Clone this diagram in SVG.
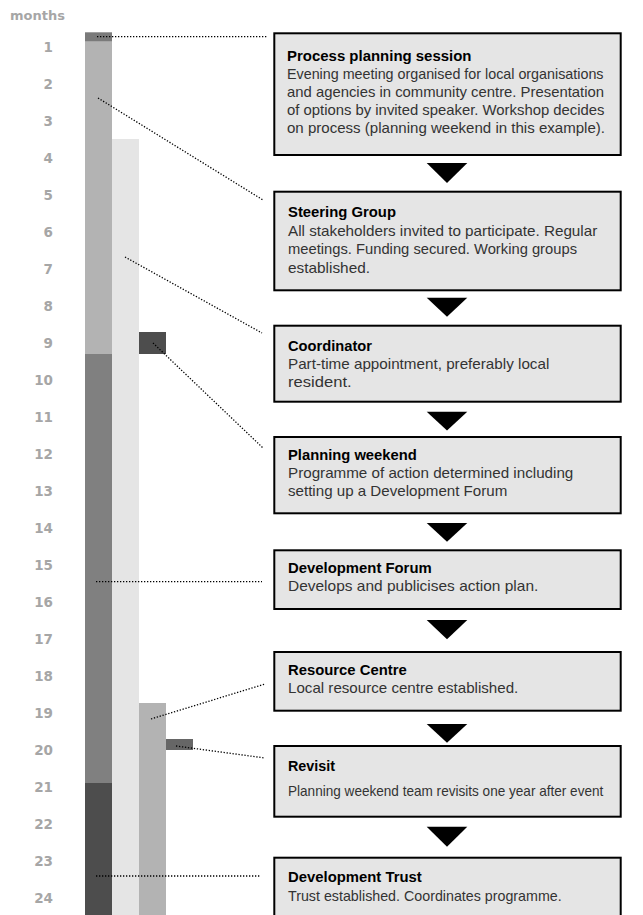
<svg xmlns="http://www.w3.org/2000/svg" width="643" height="915" viewBox="0 0 643 915">
<style>
.box{fill:#e5e5e5;stroke:#000;stroke-width:2}
.t{font-family:"Liberation Sans",Arial,sans-serif;font-weight:bold;font-size:15.5px;fill:#000}
.b{font-family:"Liberation Sans",Arial,sans-serif;font-size:15px;fill:#333}
.n{font-family:"DejaVu Sans",sans-serif;font-weight:bold;font-size:13.5px;fill:#a6a6a6;text-anchor:end}
.m{font-family:"DejaVu Sans",sans-serif;font-weight:bold;font-size:13px;fill:#a6a6a6}
.dot{stroke:#000;stroke-width:1.3;stroke-dasharray:1.3 1.7;fill:none}
.arr{fill:#000}
</style>
<rect width="643" height="915" fill="#fff"/>
<g id="axis">
<text class="m" x="10" y="20">months</text>
<text class="n" x="53" y="52">1</text>
<text class="n" x="53" y="89">2</text>
<text class="n" x="53" y="126">3</text>
<text class="n" x="53" y="163">4</text>
<text class="n" x="53" y="200">5</text>
<text class="n" x="53" y="237">6</text>
<text class="n" x="53" y="274">7</text>
<text class="n" x="53" y="311">8</text>
<text class="n" x="53" y="348">9</text>
<text class="n" x="53" y="385">10</text>
<text class="n" x="53" y="422">11</text>
<text class="n" x="53" y="459">12</text>
<text class="n" x="53" y="496">13</text>
<text class="n" x="53" y="533">14</text>
<text class="n" x="53" y="570">15</text>
<text class="n" x="53" y="607">16</text>
<text class="n" x="53" y="644">17</text>
<text class="n" x="53" y="681">18</text>
<text class="n" x="53" y="718">19</text>
<text class="n" x="53" y="755">20</text>
<text class="n" x="53" y="792">21</text>
<text class="n" x="53" y="829">22</text>
<text class="n" x="53" y="866">23</text>
<text class="n" x="53" y="903">24</text>
</g>
<g id="bars">
<rect x="85" y="32.3" width="27" height="9.4" fill="#7a7a7a"/>
<rect x="85" y="41.7" width="27" height="312.3" fill="#b3b3b3"/>
<rect x="85" y="354" width="27" height="429" fill="#808080"/>
<rect x="85" y="783" width="27" height="132" fill="#4d4d4d"/>
<rect x="112" y="139" width="27" height="776" fill="#e5e5e5"/>
<rect x="139" y="332" width="27" height="22" fill="#4d4d4d"/>
<rect x="139" y="703" width="27" height="212" fill="#b3b3b3"/>
<rect x="166" y="739" width="27" height="11" fill="#666"/>
</g>
<g id="connectors">
<line class="dot" x1="97" y1="36.7" x2="268" y2="36.7"/>
<line class="dot" x1="98" y1="98" x2="263" y2="200"/>
<line class="dot" x1="125" y1="257" x2="262" y2="333"/>
<line class="dot" x1="153" y1="343" x2="263" y2="448"/>
<line class="dot" x1="96" y1="581.7" x2="262" y2="581.7"/>
<line class="dot" x1="151" y1="719" x2="265" y2="684"/>
<line class="dot" x1="176" y1="746" x2="265" y2="758"/>
<line class="dot" x1="96" y1="876" x2="260" y2="876"/>
<polygon class="arr" points="426.7,163 467.3,163 447,183"/>
<polygon class="arr" points="426.7,297.7 467.3,297.7 447,316.7"/>
<polygon class="arr" points="426.7,411.7 467.3,411.7 447,430.5"/>
<polygon class="arr" points="426.7,523 467.3,523 447,541.7"/>
<polygon class="arr" points="426.7,620 467.3,620 447,639.3"/>
<polygon class="arr" points="426.7,724 467.3,724 447,742.7"/>
<polygon class="arr" points="426.7,826.7 467.3,826.7 447,846.7"/>
</g>
<g id="process-planning-session">
<rect class="box" x="274.3" y="33.3" width="346.4" height="121.7"/>
<text class="t" x="287" y="61" textLength="184.5" lengthAdjust="spacingAndGlyphs">Process planning session</text>
<text class="b" x="287" y="78.5" textLength="316.5" lengthAdjust="spacingAndGlyphs">Evening meeting organised for local organisations</text>
<text class="b" x="287" y="96.8" textLength="317" lengthAdjust="spacingAndGlyphs">and agencies in community centre. Presentation</text>
<text class="b" x="287" y="115.1" textLength="317.5" lengthAdjust="spacingAndGlyphs">of options by invited speaker. Workshop decides</text>
<text class="b" x="287" y="133.4" textLength="318" lengthAdjust="spacingAndGlyphs">on process (planning weekend in this example).</text>
</g>
<g id="steering-group">
<rect class="box" x="274.3" y="191.7" width="346.4" height="98.6"/>
<text class="t" x="288" y="217" textLength="108" lengthAdjust="spacingAndGlyphs">Steering Group</text>
<text class="b" x="288" y="236" textLength="309.3" lengthAdjust="spacingAndGlyphs">All stakeholders invited to participate. Regular</text>
<text class="b" x="288" y="254.3" textLength="289" lengthAdjust="spacingAndGlyphs">meetings. Funding secured. Working groups</text>
<text class="b" x="288" y="272.6" textLength="82" lengthAdjust="spacingAndGlyphs">established.</text>
</g>
<g id="coordinator">
<rect class="box" x="274.3" y="325.7" width="346.4" height="76"/>
<text class="t" x="288" y="350.5" textLength="84" lengthAdjust="spacingAndGlyphs">Coordinator</text>
<text class="b" x="288" y="369" textLength="261.3" lengthAdjust="spacingAndGlyphs">Part-time appointment, preferably local</text>
<text class="b" x="288" y="387.3" textLength="63.7" lengthAdjust="spacingAndGlyphs">resident.</text>
</g>
<g id="planning-weekend">
<rect class="box" x="274.3" y="437" width="346.4" height="76.3"/>
<text class="t" x="288" y="460" textLength="128.7" lengthAdjust="spacingAndGlyphs">Planning weekend</text>
<text class="b" x="288" y="478" textLength="285.3" lengthAdjust="spacingAndGlyphs">Programme of action determined including</text>
<text class="b" x="288" y="496.3" textLength="219.3" lengthAdjust="spacingAndGlyphs">setting up a Development Forum</text>
</g>
<g id="development-forum">
<rect class="box" x="274.3" y="550.3" width="346.4" height="58.7"/>
<text class="t" x="288" y="573" textLength="143.7" lengthAdjust="spacingAndGlyphs">Development Forum</text>
<text class="b" x="288" y="591" textLength="250.3" lengthAdjust="spacingAndGlyphs">Develops and publicises action plan.</text>
</g>
<g id="resource-centre">
<rect class="box" x="274.3" y="652" width="346.4" height="58.7"/>
<text class="t" x="288" y="675" textLength="118.7" lengthAdjust="spacingAndGlyphs">Resource Centre</text>
<text class="b" x="288" y="693" textLength="230.3" lengthAdjust="spacingAndGlyphs">Local resource centre established.</text>
</g>
<g id="revisit">
<rect class="box" x="274.3" y="746" width="346.4" height="70.7"/>
<text class="t" x="288" y="770.5" textLength="47" lengthAdjust="spacingAndGlyphs">Revisit</text>
<text class="b" x="288" y="796" textLength="315.3" lengthAdjust="spacingAndGlyphs">Planning weekend team revisits one year after event</text>
</g>
<g id="development-trust">
<rect class="box" x="274.3" y="857.7" width="346.4" height="80"/>
<text class="t" x="288" y="881.5" textLength="133.7" lengthAdjust="spacingAndGlyphs">Development Trust</text>
<text class="b" x="288" y="900.5" textLength="273.7" lengthAdjust="spacingAndGlyphs">Trust established. Coordinates programme.</text>
</g>
</svg>
